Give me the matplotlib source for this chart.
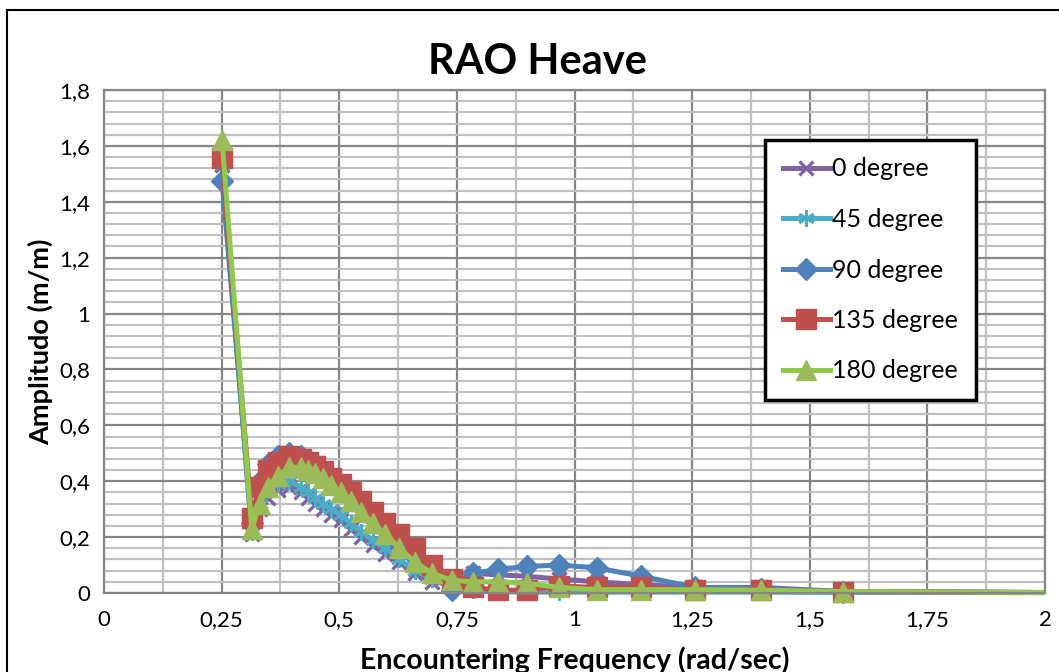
import matplotlib.pyplot as plt
from matplotlib.ticker import MultipleLocator, FuncFormatter
from matplotlib.transforms import Bbox, TransformedBbox
from matplotlib.patches import Rectangle

plt.rcParams['font.family'] = ['Lato', 'DejaVu Sans']

# encountering frequency (rad/s)
freq = [0.251, 0.314, 0.331, 0.349, 0.370, 0.393, 0.419, 0.433, 0.449, 0.465,
        0.483, 0.503, 0.524, 0.546, 0.571, 0.598, 0.628, 0.661, 0.698, 0.739,
        0.785, 0.838, 0.898, 0.967, 1.047, 1.142, 1.257, 1.396, 1.571, 2.094]

deg0 = [1.53, 0.21, 0.30, 0.34, 0.37, 0.38, 0.36, 0.34, 0.32, 0.30,
        0.28, 0.26, 0.23, 0.20, 0.17, 0.14, 0.11, 0.07, 0.04, 0.03,
        0.07, 0.065, 0.06, 0.05, 0.04, 0.03, 0.02, 0.02, 0.005, 0.001]
deg45 = [1.53, 0.22, 0.32, 0.37, 0.39, 0.40, 0.38, 0.36, 0.34, 0.32,
         0.30, 0.28, 0.25, 0.22, 0.19, 0.16, 0.12, 0.08, 0.05, 0.02,
         0.01, 0.005, 0.003, 0.003, 0.003, 0.003, 0.003, 0.003, 0.002, 0.001]
deg90 = [1.475, 0.25, 0.40, 0.46, 0.49, 0.50, 0.49, 0.47, 0.45, 0.43,
         0.41, 0.38, 0.35, 0.31, 0.27, 0.23, 0.18, 0.13, 0.08, 0.01,
         0.07, 0.085, 0.095, 0.10, 0.09, 0.06, 0.02, 0.015, 0.005, 0.001]
deg135 = [1.555, 0.27, 0.38, 0.44, 0.47, 0.49, 0.48, 0.47, 0.455, 0.435,
          0.41, 0.39, 0.36, 0.33, 0.29, 0.25, 0.21, 0.16, 0.10, 0.05,
          0.02, 0.01, 0.01, 0.025, 0.02, 0.02, 0.01, 0.01, 0.005, 0.001]
deg180 = [1.62, 0.23, 0.32, 0.38, 0.42, 0.45, 0.45, 0.44, 0.43, 0.41,
          0.385, 0.36, 0.33, 0.29, 0.25, 0.21, 0.16, 0.11, 0.07, 0.045,
          0.04, 0.04, 0.035, 0.02, 0.012, 0.012, 0.012, 0.01, 0.005, 0.001]

labels = ['0 degree', '45 degree', '90 degree', '135 degree', '180 degree']

fig = plt.figure(figsize=(10.59, 6.72), dpi=100)
ax = fig.add_axes([104/1059, 1-593/672, 941/1059, 503/672])

# outer chart border (only top/left visible)
fig.patches.append(Rectangle((7/1059, -0.1), 1.2, 1 - 10/672 + 0.1,
                             transform=fig.transFigure, fill=False,
                             edgecolor='black', lw=1.5))

styles = [
    dict(color='#8064A2', marker='x', ms=10, mew=2.4),
    dict(color='#4BACC6', marker=(6, 2, 0), ms=12, mew=2.0),
    dict(color='#4F81BD', marker='D', ms=11, mew=1),
    dict(color='#C0504D', marker='s', ms=14, mew=1),
    dict(color='#8FCB48', marker='^', ms=15, mew=1, mfc='#9BBB59', mec='#9BBB59'),
]
series = [deg0, deg45, deg90, deg135, deg180]

clip = TransformedBbox(Bbox([[0, -0.2], [2, 1.9]]), ax.transData)
for vals, lab, st in zip(series, labels, styles):
    line, = ax.plot(freq, vals, lw=3.6, label=lab, **st)
    line.set_clip_box(clip)

ax.set_xlim(0, 2)
ax.set_ylim(0, 1.8)
ax.xaxis.set_major_locator(MultipleLocator(0.25))
ax.xaxis.set_minor_locator(MultipleLocator(0.125))
ax.yaxis.set_major_locator(MultipleLocator(0.2))
ax.yaxis.set_minor_locator(MultipleLocator(0.04))
ax.grid(which='major', color='#868686', lw=1.6)
ax.grid(which='minor', color='#C0C0C0', lw=1.6)
ax.set_axisbelow(True)
for s in ax.spines.values():
    s.set_color('#868686')
    s.set_linewidth(1.6)

fmt = FuncFormatter(lambda v, p: ('%g' % round(v, 3)).replace('.', ','))
ax.xaxis.set_major_formatter(fmt)
ax.yaxis.set_major_formatter(fmt)
ax.tick_params(which='both', length=0, labelsize=16)
ax.tick_params(axis='x', pad=12)
ax.tick_params(axis='y', pad=10)

fig.text(538/1059, 1 - 62/672, 'RAO Heave', fontsize=30, fontweight='bold',
         ha='center', va='center')
ax.set_xlabel('Encountering Frequency (rad/sec)', fontsize=20.5, fontweight='bold', labelpad=12)
ax.set_ylabel('Amplitudo (m/m)', fontsize=19.5, fontweight='bold', labelpad=4)

leg = ax.legend(loc='upper left', bbox_to_anchor=((765-104)/941, (593-140)/503),
                fontsize=18, frameon=True, fancybox=False, handlelength=1.9,
                handletextpad=0.1, labelspacing=1.1, borderpad=0.7,
                borderaxespad=0)
leg.get_frame().set_edgecolor('black')
leg.get_frame().set_linewidth(2.5)
leg.get_frame().set_alpha(1)

fig.savefig('out.png', dpi=100)
